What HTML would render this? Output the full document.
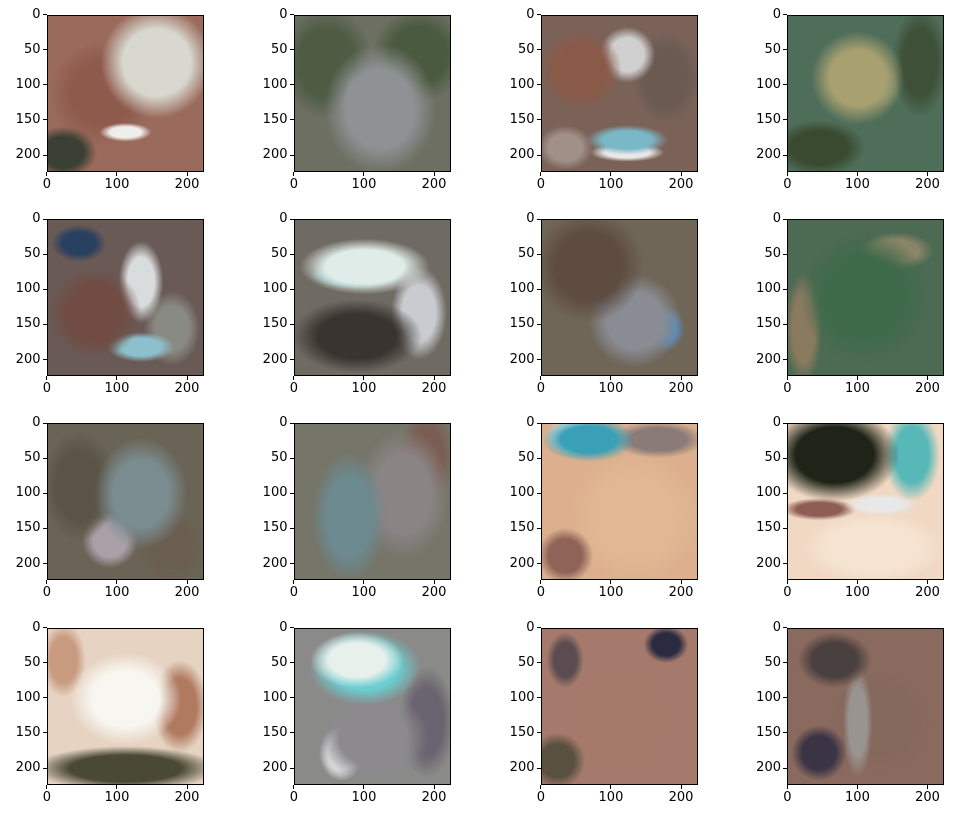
<!DOCTYPE html>
<html><head><meta charset="utf-8"><style>
body{margin:0;background:#fff;width:953px;height:818px;position:relative;overflow:hidden;font-family:"DejaVu Sans","Liberation Sans",sans-serif;}
.ax{position:absolute;width:157px;height:157px;border:1px solid #000;box-sizing:border-box;}
.img{position:absolute;inset:0;}
.tk{position:absolute;background:#000;}
.lb{position:absolute;font-size:13px;color:#000;white-space:nowrap;}
</style></head><body>
<div id="fig"></div>
<script>
// panel data: base color + blobs [cx%,cy%,rx%,ry%,color]
const xTicks=[0,100,200];
const yTicks=[0,50,100,150,200];
const extent=224;
const bases=["#9a6a5c","#6c6f62","#7a6258","#4f6e5a","#6a5a56","#6f6a62","#6f6658","#4d6a52","#6a6456","#757569","#dcb08e","#f0d8c2","#e6d3c2","#8a8a88","#a57a6c","#8a6a5e"];
const blobs=[
 [[70,30,30,30,"#d8d8cf"],[80,30,12,18,"#a8ccd0"],[50,75,14,5,"#eeeeea"],[10,88,18,14,"#3a4034"],[35,50,28,28,"#8e5a4c"]],
 [[55,60,30,35,"#8e9294"],[40,55,8,15,"#7a8a9a"],[20,30,25,30,"#4e5c44"],[80,25,25,25,"#4a5a3e"]],
 [[25,35,22,22,"#8a5a48"],[55,25,15,15,"#d0d0d0"],[55,80,22,8,"#7ab8c8"],[55,88,20,5,"#e8e8e8"],[80,40,18,25,"#6a5a52"],[15,85,15,12,"#a09088"]],
 [[45,40,25,25,"#a8a070"],[60,45,10,12,"#6a8468"],[20,85,25,15,"#3a4a30"],[85,30,15,30,"#3e5038"]],
 [[30,60,25,25,"#704c44"],[60,40,12,22,"#d8dcdc"],[60,82,18,8,"#8cc0cc"],[20,15,15,10,"#2a4060"],[80,70,15,20,"#8a8a84"]],
 [[45,30,35,15,"#e0ece8"],[40,35,25,8,"#80d0d8"],[40,75,35,20,"#3a3430"],[35,70,15,8,"#b05a30"],[80,60,15,25,"#c8ccd0"]],
 [[30,30,30,30,"#5e4c40"],[60,65,25,25,"#8a8c94"],[80,70,10,12,"#5a88b0"],[45,50,12,10,"#5a7a9c"]],
 [[50,50,35,35,"#3e6a4a"],[10,70,10,30,"#8a7a60"],[70,20,20,10,"#8a8468"]],
 [[60,45,25,30,"#7a8c90"],[20,40,20,30,"#5a5448"],[80,80,18,18,"#6a5e50"],[40,75,15,15,"#aaa0a8"]],
 [[35,60,20,35,"#6c8a90"],[70,45,25,35,"#8a8484"],[85,20,15,25,"#7a5e54"]],
 [[30,10,25,12,"#3aa0b8"],[20,8,15,10,"#e8eaea"],[75,10,25,10,"#8a7a78"],[15,85,15,15,"#8e6458"],[60,60,35,35,"#e2b894"]],
 [[30,20,35,25,"#1e2418"],[80,20,15,25,"#58b8b8"],[60,52,20,6,"#e8e8e8"],[20,55,20,6,"#8e5e54"],[55,80,40,20,"#f6e4d2"]],
 [[50,45,30,25,"#f8f6f0"],[50,90,50,12,"#4a4a34"],[85,50,15,25,"#b07a60"],[10,20,12,20,"#c89a80"]],
 [[40,20,25,15,"#e8f0ec"],[45,25,30,20,"#6ccdd0"],[50,70,30,25,"#8c8a8e"],[30,80,12,15,"#e8e8ea"],[85,60,15,30,"#6a6470"]],
 [[80,10,12,10,"#2a2a40"],[15,20,10,15,"#5a4c50"],[10,85,15,15,"#5a5040"],[50,60,30,30,"#a67a6a"]],
 [[30,20,20,15,"#4a4040"],[45,60,8,30,"#9a9490"],[20,80,15,15,"#3a3444"],[60,60,30,30,"#85685c"]]
];
const colLeft=[46.5,293.5,540.5,787];
const rowTop=[14.5,219,423,627.5];
const size=157;
const fig=document.getElementById('fig');
function sx(v){return (v+0.5)/extent*size;}
for(let r=0;r<4;r++)for(let c=0;c<4;c++){
  const i=r*4+c;
  const L=colLeft[c],T=rowTop[r];
  const ax=document.createElement('div');
  ax.className='ax';
  
  
  ax.style.left=L+'px';ax.style.top=T+'px';
  const im=document.createElement('div');
  im.className='img';
  
  
  const g=blobs[i].map(b=>`radial-gradient(ellipse ${b[2]*1.2}% ${b[3]*1.2}% at ${b[0]}% ${b[1]}%, ${b[4]} 0%, ${b[4]} 60%, transparent 100%)`);
  g.push(`linear-gradient(${bases[i]},${bases[i]})`);
  im.style.background=g.join(',');
  ax.appendChild(im);
  fig.appendChild(ax);
  for(const v of xTicks){
    const x=L+sx(v);
    const t=document.createElement('div');t.className='tk';
    
    
    t.style.left=(x-0.5)+'px';t.style.top=(T+size)+'px';t.style.width='1px';t.style.height='4px';
    fig.appendChild(t);
    const l=document.createElement('div');l.className='lb';
    
    
    l.textContent=v;l.style.left=x+'px';l.style.top=(T+size+5)+'px';l.style.transform='translateX(-50%)';
    fig.appendChild(l);
  }
  for(const v of yTicks){
    const y=T+sx(v);
    const t=document.createElement('div');t.className='tk';
    
    
    t.style.left=(L-4)+'px';t.style.top=(y-0.5)+'px';t.style.width='4px';t.style.height='1px';
    fig.appendChild(t);
    const l=document.createElement('div');l.className='lb';
    
    
    l.textContent=v;l.style.right=(953-L+6)+'px';l.style.top=(y-8)+'px';
    fig.appendChild(l);
  }
}
</script>
</body></html>
